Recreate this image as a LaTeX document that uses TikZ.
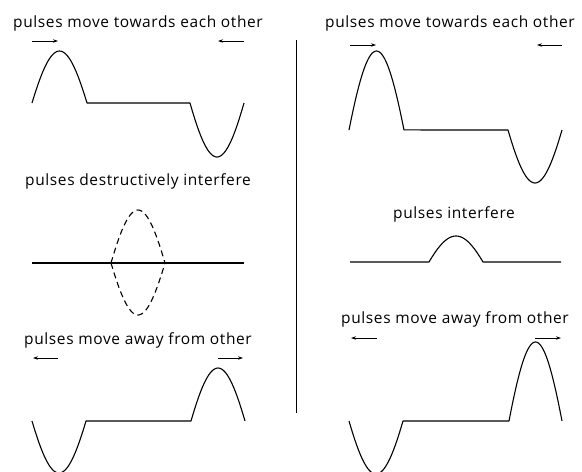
\documentclass[tikz,border=0pt]{standalone}
\usepackage{fontspec}
\setmainfont{Open Sans}[LetterSpace=4]
\usetikzlibrary{arrows.meta}

% normalised pulse shape, 0 at t=-1 and t=1, 1 at t=0
\def\shp{((cos(70*\t)-cos(70))/(1-cos(70)))}

\begin{document}
\begin{tikzpicture}[
  x=1pt, y=-1pt,
  font=\fontsize{15.5}{18}\selectfont,
  wave/.style={line width=1.1pt, line join=round},
  ghost/.style={wave, dash pattern=on 6pt off 4pt},
  pls/.style={domain=-1:1, samples=41, variable=\t},
  mv/.style={-{Stealth[length=5pt,width=3.4pt]}, line width=0.8pt},
  caption/.style={anchor=base, inner sep=0pt}
]
\useasboundingbox (0,0) rectangle (582,472);
\clip (0,0) rectangle (582,472);

% --- left column ---
\node[caption] (ltop) at (138,27) {pulses move towards each other};
\draw[mv] (32,41) -- (58,41);
\draw[mv] (244,41) -- (218,41);
\draw[wave] plot[pls] ({59.5+27.5*\t},{103-52*\shp}) -- (190,103)
  -- plot[pls] ({217+27*\t},{103+54*\shp});

\node[caption] (lmid) at (138,185) {pulses destructively interfere};
\draw[wave] (32,263) -- (244,263);
\draw[ghost] plot[pls] ({138+27*\t},{263-53*\shp});
\draw[ghost] plot[pls] ({138+27*\t},{263+52*\shp});

\node[caption] (lbot) at (138,344) {pulses move away from other};
\draw[mv] (58,358) -- (33,358);
\draw[mv] (218,358) -- (243,358);
\draw[wave] plot[pls] ({59+27*\t},{421+52*\shp}) -- (191,421)
  -- plot[pls] ({218+27*\t},{421-53*\shp});

% divider
\draw[line width=1pt] (296,40) -- (296,413);

% --- right column ---
\node[caption] (rtop) at (450,27) {pulses move towards each other};
\draw[mv] (350,45) -- (376,45);
\draw[mv] (562,45) -- (537,45);
\draw[wave] plot[pls] ({376.5+27.5*\t},{130-79*\shp}) -- (508,130)
  -- plot[pls] ({535+27*\t},{130+53*\shp});

\node[caption] (rmid) at (454,218) {pulses interfere};
\draw[wave] (350,262) -- (429,262)
  -- plot[pls] ({456+27*\t},{262-26*\shp}) -- (561,262);

\node[caption] (rbot) at (455,323) {pulses move away from other};
\draw[mv] (377,338) -- (351,338);
\draw[mv] (535,338) -- (561,338);
\draw[wave] plot[pls] ({376+27*\t},{421+53*\shp}) -- (509,421)
  -- plot[pls] ({535.5+26.5*\t},{421-79*\shp});
\end{tikzpicture}
\end{document}
